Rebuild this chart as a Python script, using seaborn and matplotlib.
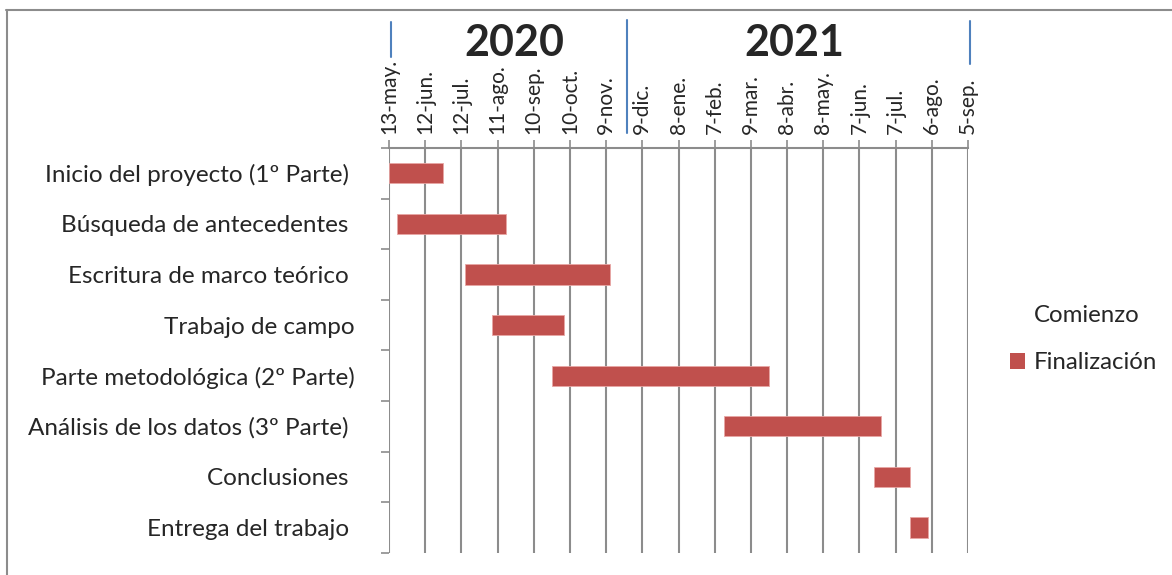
import matplotlib
matplotlib.use("Agg")
import matplotlib.pyplot as plt
from matplotlib.patches import Patch
from matplotlib.lines import Line2D
import numpy as np
import pandas as pd
import seaborn as sns

# Tareas del cronograma (de arriba abajo), fecha de comienzo y duración en días
tareas = [
    "Inicio del proyecto (1º Parte) ",
    "Búsqueda de antecedentes ",
    "Escritura de marco teórico ",
    "Trabajo de campo",
    "Parte metodológica (2º Parte)",
    "Análisis de los datos (3º Parte) ",
    "Conclusiones ",
    "Entrega del trabajo ",
]
comienzo = [
    "2020-05-13", "2020-05-20", "2020-07-15", "2020-08-06",
    "2020-09-25", "2021-02-15", "2021-06-19", "2021-07-19",
]
duracion_dias = [45, 90, 120, 60, 180, 130, 30, 15]

# Eje temporal: origen y separación entre marcas (días)
fecha_origen = "2020-05-13"
paso_dias = 30
etiquetas_fecha = [
    "13-may.", "12-jun.", "12-jul.", "11-ago.", "10-sep.", "10-oct.",
    "9-nov.", "9-dic.", "8-ene.", "7-feb.", "9-mar.", "8-abr.",
    "8-may.", "7-jun.", "7-jul.", "6-ago.", "5-sep.",
]
anios = ["2020", "2021"]
series = ["Comienzo", "Finalización"]

ROJO = "#C0504D"
GRIS = "#8C8C8C"
AZUL = "#4F81BD"
W, H = 1172, 575

sns.set_style("white")
plt.rcParams["font.family"] = ["Lato", "DejaVu Sans"]

origen = pd.Timestamp(fecha_origen)
df = pd.DataFrame({
    "tarea": tareas,
    "comienzo": pd.to_datetime(comienzo),
    "duracion": duracion_dias,
})
df["inicio_dia"] = (df["comienzo"] - origen).dt.days
df["fin_dia"] = df["inicio_dia"] + df["duracion"]

fig = plt.figure(figsize=(W / 100, H / 100), dpi=100)
ax = fig.add_axes([389 / W, 1 - 552.7 / H, (968 - 389) / W, (552.7 - 148) / H])

sns.barplot(data=df, x="fin_dia", y="tarea", orient="h", color=ROJO,
            saturation=1, width=0.4, ax=ax, zorder=3,
            edgecolor="#E8A6A4", linewidth=0.6)
# Cada barra arranca en su fecha de comienzo (serie "Comienzo" invisible)
for barra, ini in zip(ax.patches, df["inicio_dia"]):
    fin = barra.get_width()
    barra.set_x(ini)
    barra.set_width(fin - ini)

n = len(etiquetas_fecha)
ax.set_xlim(0, paso_dias * (n - 1))
ax.set_ylim(len(tareas) - 0.5, -0.5)
ax.set_xticks(np.arange(n) * paso_dias)
ax.set_xticklabels(etiquetas_fecha, rotation=90)
ax.xaxis.tick_top()
ax.tick_params(axis="x", top=True, bottom=False, length=6, width=1.2,
               color=GRIS, pad=4, labelsize=15)
ax.grid(axis="x", color=GRIS, linewidth=1.5)
ax.set_axisbelow(True)

ax.set_yticks(range(len(tareas)))
ax.set_yticklabels(tareas)
ax.tick_params(axis="y", which="major", length=0, pad=24.5, labelsize=17.5)
ax.set_yticks(np.arange(-0.5, len(tareas), 1), minor=True)
ax.tick_params(axis="y", which="minor", left=True, length=6, width=1.2, color=GRIS)
ax.set_xlabel("")
ax.set_ylabel("")

for lado in ["left", "right", "bottom"]:
    ax.spines[lado].set_visible(False)
ax.spines["top"].set_color(GRIS)
ax.spines["top"].set_linewidth(1.5)

# Rótulos de año y separadores
for texto, xc in zip(anios, [514, 794]):
    fig.text(xc / W, 1 - 43 / H, texto, ha="center", va="center",
             fontsize=31, fontweight="bold")
for xp, y0, y1 in [(390.7, 22, 57), (627.3, 20, 133), (969.7, 21, 64)]:
    fig.add_artist(Line2D([xp / W, xp / W], [1 - y0 / H, 1 - y1 / H],
                          transform=fig.transFigure, color=AZUL, lw=1.5))

# Marco del gráfico
fig.add_artist(Line2D([6 / W, 1], [1 - 10 / H, 1 - 10 / H],
                      transform=fig.transFigure, color=GRIS, lw=1.5))
fig.add_artist(Line2D([7 / W, 7 / W], [1 - 10 / H, 0],
                      transform=fig.transFigure, color=GRIS, lw=1.5))

manejadores = [
    Patch(facecolor="none", edgecolor="none", label=series[0]),
    Patch(facecolor=ROJO, edgecolor="none", label=series[1]),
]
fig.legend(handles=manejadores, loc="center left",
           bbox_to_anchor=(988 / W, 1 - 339 / H), frameon=False,
           fontsize=17.3, handlelength=0.65, handleheight=0.65,
           handletextpad=0.35, labelspacing=1.1)

fig.savefig("out.png", dpi=100)
